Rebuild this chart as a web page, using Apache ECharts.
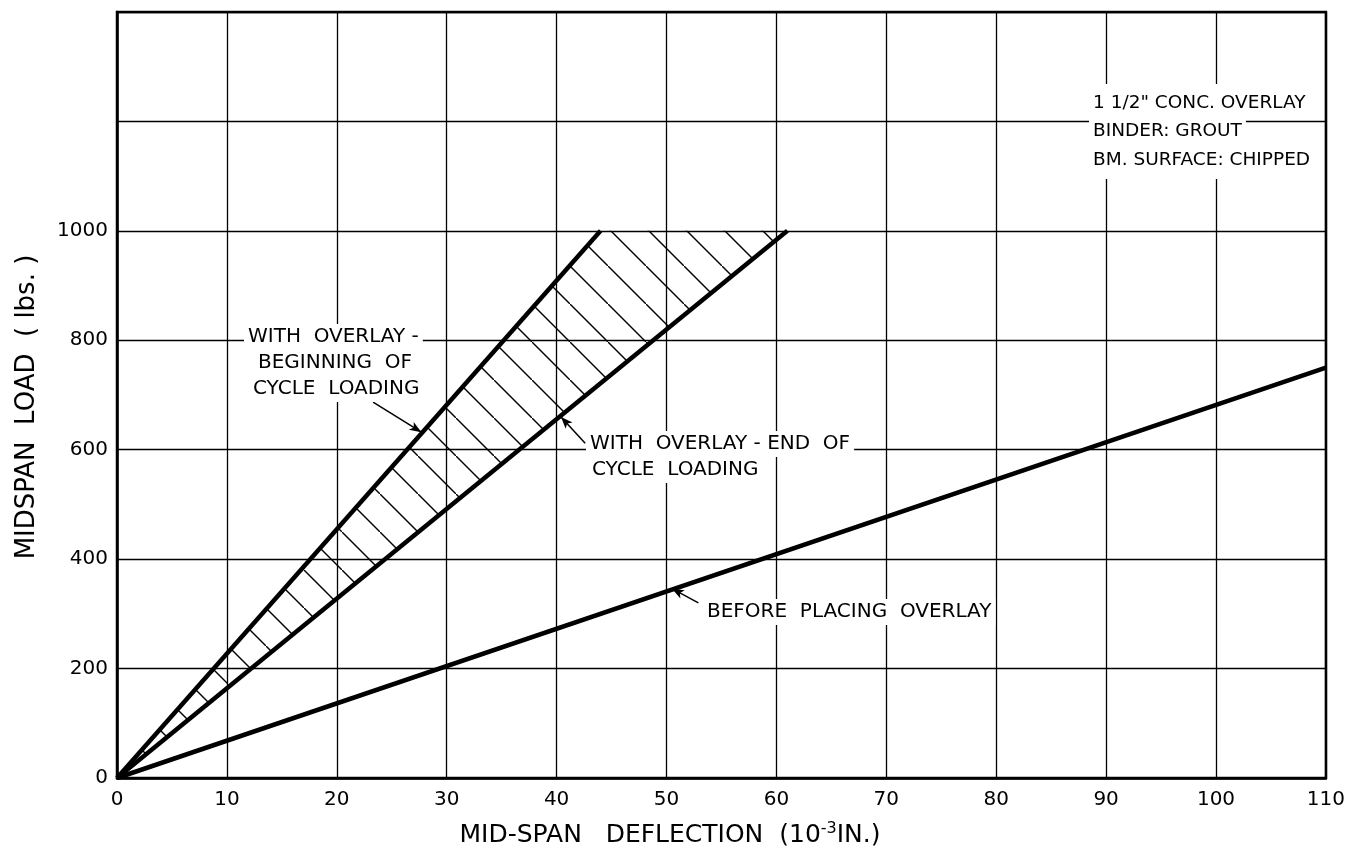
<!DOCTYPE html>
<html>
<head>
<meta charset="utf-8">
<script src="https://cdn.jsdelivr.net/npm/echarts@6/dist/echarts.min.js"></script>
<style>
html, body { margin: 0; padding: 0; background: #fff; }
#chart { width: 1348px; height: 850px; }
</style>
</head>
<body>
<div id="chart"></div>
<script>
// mid-span deflection (10^-3 in.) vs midspan load (lbs.)
const beforeOverlay = [[0, 0], [110, 750]];
const overlayStart = [[0, 0], [44, 1000]];
const overlayEnd = [[0, 0], [61, 1000]];
const yLabelsShown = [0, 200, 400, 600, 800, 1000];

// arrows of the notes: [from, to] in data units
const arrowStart = [[23.3, 687], [27.7, 632]];
const arrowEnd = [[42.6, 612], [40.4, 660]];
const arrowBefore = [[52.9, 320], [50.5, 346]];

const font = '"DejaVu Sans", sans-serif';

// tile for the hatching between the two overlay lines
function hatchTile(size) {
  const c = document.createElement('canvas');
  c.width = size;
  c.height = size;
  const ctx = c.getContext('2d');
  ctx.strokeStyle = '#000';
  ctx.lineWidth = 1.4;
  ctx.beginPath();
  ctx.moveTo(-2, -2);
  ctx.lineTo(size + 2, size + 2);
  ctx.stroke();
  return c;
}
const tile = hatchTile(38);

function note(x, y, text, size) {
  return {
    type: 'text', z: 20,
    style: {
      x: x, y: y, text: text,
      font: (size || 20) + 'px ' + font,
      fill: '#000',
      textAlign: 'left', textVerticalAlign: 'middle',
      backgroundColor: '#fff', padding: [3, 4]
    }
  };
}

const chart = echarts.init(document.getElementById('chart'));
chart.setOption({
  animation: false,
  backgroundColor: '#fff',
  grid: {
    left: 117, right: 20, top: 12, bottom: 72,
    show: true, borderColor: '#000', borderWidth: 2.5, backgroundColor: 'transparent'
  },
  xAxis: {
    type: 'value', min: 0, max: 110, interval: 10,
    axisLine: { show: true, lineStyle: { color: '#000', width: 2.5 } },
    axisTick: { show: false },
    axisLabel: { color: '#000', fontFamily: font, fontSize: 20, margin: 12 },
    splitLine: { show: true, lineStyle: { color: '#000', width: 1.3 } }
  },
  yAxis: {
    type: 'value', min: 0, max: 1400, interval: 200,
    axisLine: { show: true, lineStyle: { color: '#000', width: 2.5 } },
    axisTick: { show: false },
    axisLabel: {
      color: '#000', fontFamily: font, fontSize: 20, margin: 9,
      formatter: v => (yLabelsShown.includes(v) ? String(v) : '')
    },
    splitLine: { show: true, lineStyle: { color: '#000', width: 1.3 } }
  },
  graphic: [
    // the grid stops behind the top-right note
    { type: 'rect', z: 10, shape: { x: 1082, y: 84, width: 236, height: 35 }, style: { fill: '#fff' } },
    { type: 'rect', z: 10, shape: { x: 1082, y: 124, width: 236, height: 55 }, style: { fill: '#fff' } },
    note(1089, 103, '1 1/2" CONC. OVERLAY', 18.5),
    note(1089, 131, 'BINDER: GROUT', 18.5),
    note(1089, 160, 'BM. SURFACE: CHIPPED', 18.5),
    note(244, 337, 'WITH  OVERLAY -'),
    note(254, 363, 'BEGINNING  OF'),
    note(249, 389, 'CYCLE  LOADING'),
    note(586, 444, 'WITH  OVERLAY - END  OF'),
    note(588, 470, 'CYCLE  LOADING'),
    note(703, 612, 'BEFORE  PLACING  OVERLAY'),
    {
      type: 'text', z: 20,
      style: {
        x: 670, y: 835,
        text: '{t|MID-SPAN   DEFLECTION  (10}{s|-3}{t|IN.)}',
        textAlign: 'center', textVerticalAlign: 'middle',
        rich: {
          t: { fontFamily: font, fontSize: 25, fill: '#000', color: '#000' },
          s: { fontFamily: font, fontSize: 16, fill: '#000', color: '#000', padding: [0, 0, 13, 0] }
        }
      }
    },
    {
      type: 'text', z: 20, x: 27, y: 407, rotation: Math.PI / 2,
      style: {
        x: 0, y: 0, text: 'MIDSPAN  LOAD  ( lbs. )',
        font: '26px ' + font, fill: '#000',
        textAlign: 'center', textVerticalAlign: 'middle'
      }
    }
  ],
  series: [
    {
      type: 'custom',
      silent: true,
      z: 3,
      data: [[0, 0]],
      renderItem: function (params, api) {
        const pts = [overlayStart[0], overlayStart[1], overlayEnd[1]].map(p => api.coord(p));
        return {
          type: 'polygon',
          shape: { points: pts },
          style: { fill: { image: tile, repeat: 'repeat' }, stroke: null }
        };
      }
    },
    {
      name: 'before', type: 'line', data: beforeOverlay, showSymbol: false, z: 5,
      lineStyle: { color: '#000', width: 4.5 },
      markLine: {
        silent: true, symbol: ['none', 'arrow'], symbolSize: [7, 12],
        lineStyle: { color: '#000', width: 1.5, type: 'solid' },
        label: { show: false },
        data: [arrowStart, arrowEnd, arrowBefore].map(a => [{ coord: a[0] }, { coord: a[1] }])
      }
    },
    {
      name: 'start', type: 'line', data: overlayStart, showSymbol: false, z: 5,
      lineStyle: { color: '#000', width: 4.5 }
    },
    {
      name: 'end', type: 'line', data: overlayEnd, showSymbol: false, z: 5,
      lineStyle: { color: '#000', width: 4.5 }
    }
  ]
});
</script>
</body>
</html>
